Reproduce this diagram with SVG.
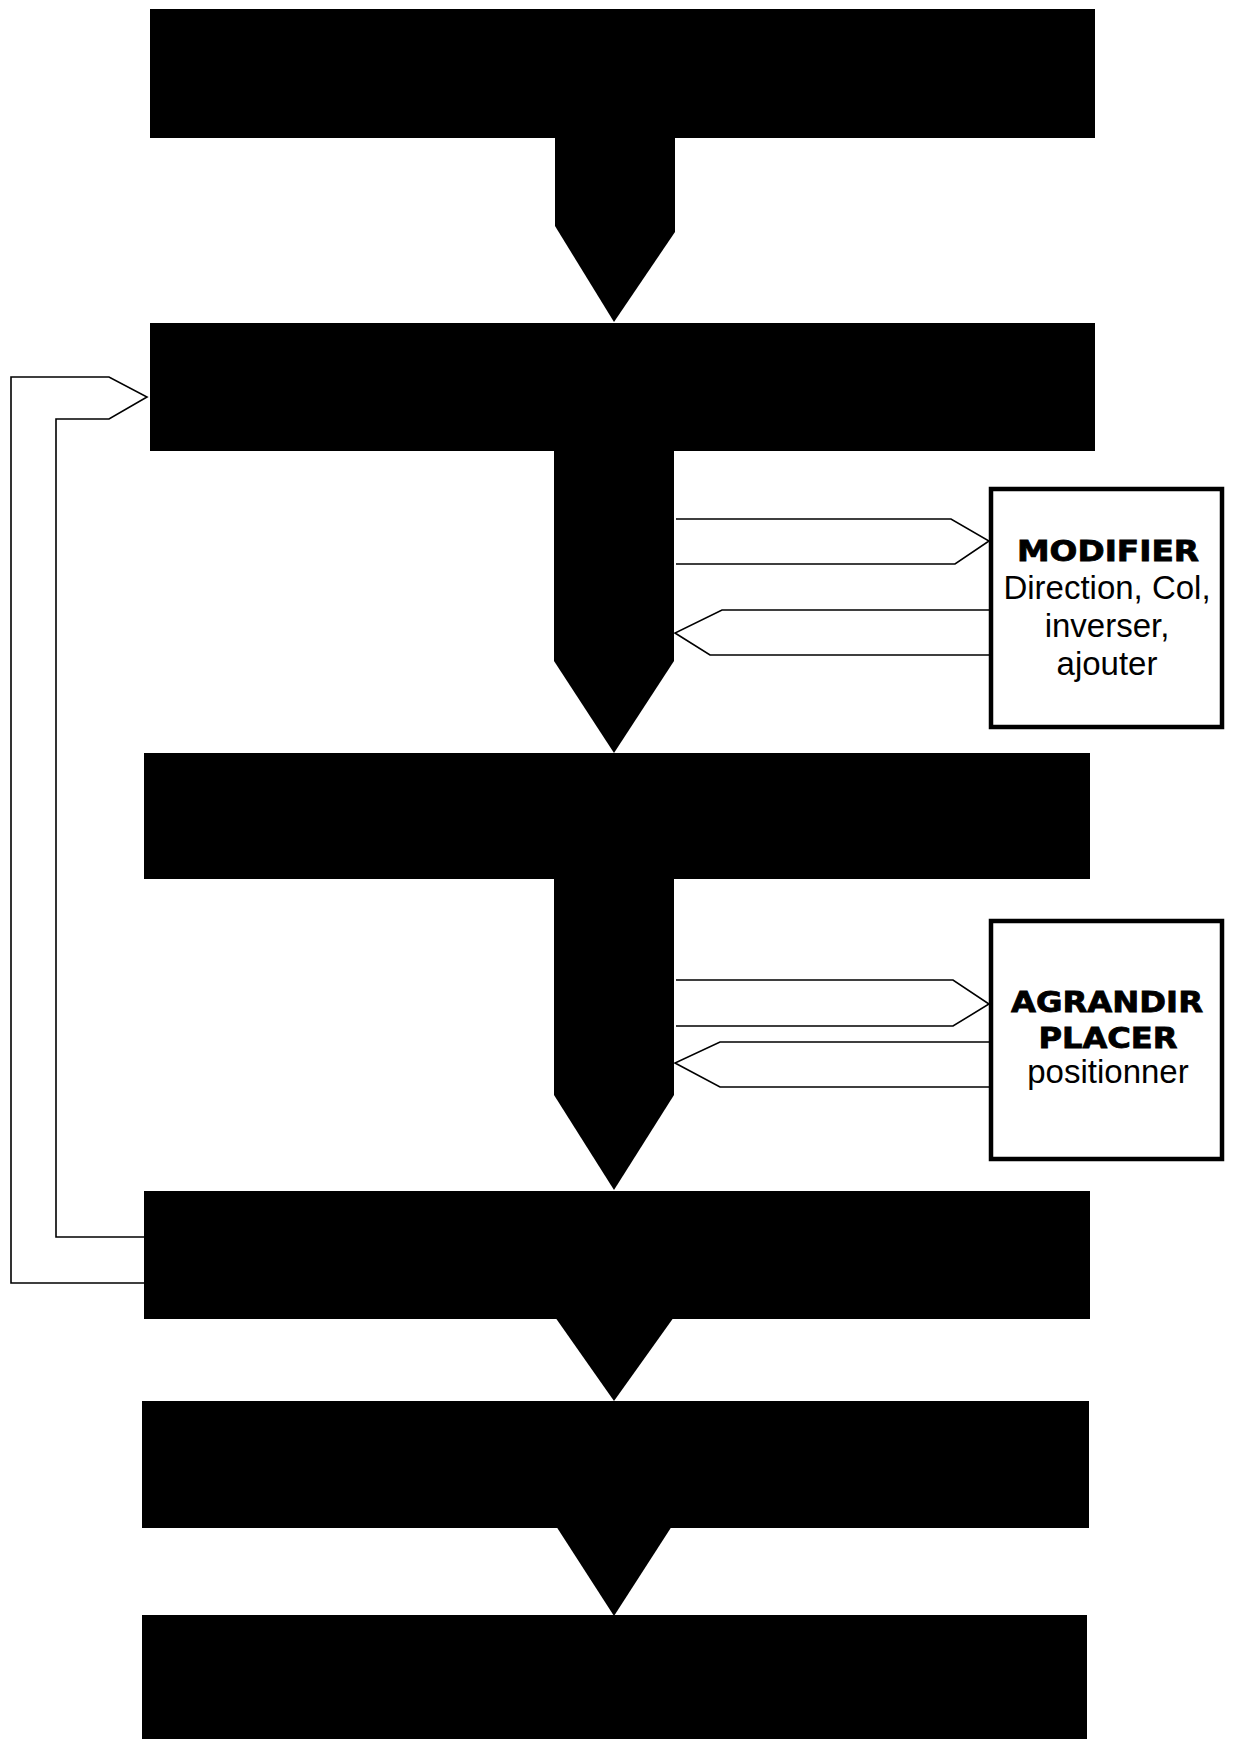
<svg xmlns="http://www.w3.org/2000/svg" width="1235" height="1739" viewBox="0 0 1235 1739">
<style>
.blk{fill:#000}
.con{fill:none;stroke:#000;stroke-width:1.6;stroke-linejoin:miter}
.side{fill:#fff;stroke:#000;stroke-width:4.5}
.hd{font-family:"DejaVu Sans","Liberation Sans",sans-serif;font-weight:bold;font-size:28px;fill:#000;stroke:#000;stroke-width:0.8;text-anchor:middle}
.tx{font-family:"Liberation Sans","Arial",sans-serif;font-size:33px;fill:#000;text-anchor:middle}
</style>
<rect width="1235" height="1739" fill="#fff"/>
<g id="connectors">
  <polygon class="blk" points="555,136 675,136 675,232 614,322 555,226"/>
  <polygon class="blk" points="554,449 674,449 674,661 614,753 554,661"/>
  <polygon class="blk" points="554,877 674,877 674,1095 614,1190 554,1095"/>
  <polygon class="blk" points="555,1317 674,1317 614,1401"/>
  <polygon class="blk" points="556,1526 672,1526 614,1616"/>
  <path class="con" d="M676,519 L951,519 L989,541 L955,564 L676,564"/>
  <path class="con" d="M989,610 L722,610 L675,633 L710,655 L989,655"/>
  <path class="con" d="M676,980 L953,980 L989,1004 L953,1026 L676,1026"/>
  <path class="con" d="M989,1042 L720,1042 L675,1063 L720,1087 L989,1087"/>
  <path class="con" d="M144,1283 L11,1283 L11,377 L109,377 L147,397 L109,419 L56,419 L56,1237 L144,1237"/>
</g>
<g id="node1"><rect class="blk" x="150" y="9" width="945" height="129"/></g>
<g id="node2"><rect class="blk" x="150" y="323" width="945" height="128"/></g>
<g id="node3"><rect class="blk" x="144" y="753" width="946" height="126"/></g>
<g id="node4"><rect class="blk" x="144" y="1191" width="946" height="128"/></g>
<g id="node5"><rect class="blk" x="142" y="1401" width="947" height="127"/></g>
<g id="node6"><rect class="blk" x="142" y="1615" width="945" height="124"/></g>
<g id="modifier">
  <rect class="side" x="991" y="489" width="231" height="238"/>
  <text class="hd" x="1108" y="561" textLength="182" lengthAdjust="spacingAndGlyphs">MODIFIER</text>
  <text class="tx" x="1107" y="599">Direction, Col,</text>
  <text class="tx" x="1107" y="637">inverser,</text>
  <text class="tx" x="1107" y="675">ajouter</text>
</g>
<g id="agrandir">
  <rect class="side" x="991" y="921" width="231" height="238"/>
  <text class="hd" x="1107" y="1012" textLength="192" lengthAdjust="spacingAndGlyphs">AGRANDIR</text>
  <text class="hd" x="1108" y="1048" textLength="139" lengthAdjust="spacingAndGlyphs">PLACER</text>
  <text class="tx" x="1108" y="1083">positionner</text>
</g>
</svg>
